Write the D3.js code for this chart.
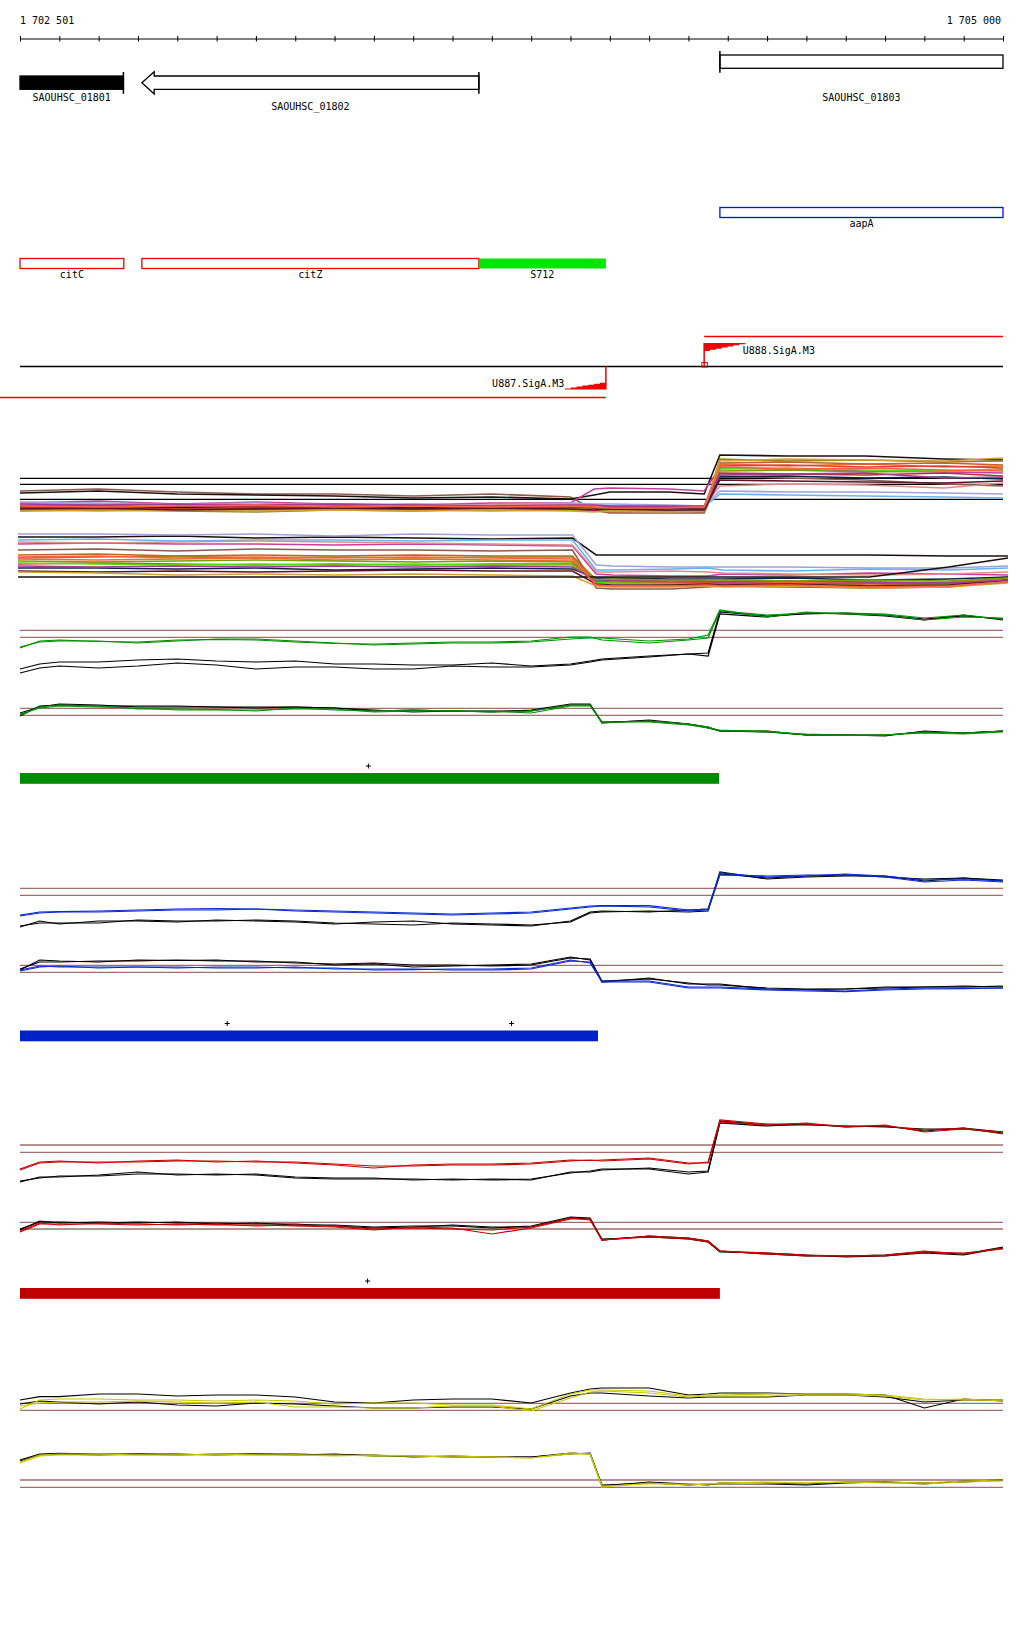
<!DOCTYPE html>
<html><head><meta charset="utf-8">
<script src="https://cdn.jsdelivr.net/npm/d3@7"></script>
<style>
html,body{margin:0;padding:0;background:#fff;}
svg{display:block;}
text{font-family:"DejaVu Sans Mono",monospace;font-size:10px;fill:#000;}
</style></head><body>
<svg id="chart" width="1024" height="1640"></svg>
<script>
// ---------------- DATA ----------------
const genomeRange = [1702500, 1705000];
const tickStep = 100;
const axisTickLabels = ["1 702 501", "1 705 000"];

const geneNames   = ["SAOUHSC_01801", "SAOUHSC_01802", "SAOUHSC_01803"];
const geneStarts  = [1702500, 1702810, 1704280];
const geneEnds    = [1702763, 1703667, 1705000];
const geneStrands = ["-", "-", "+"];
const geneFilled  = [true, false, false];

const featureNames  = ["aapA", "citC", "citZ", "S712"];
const featureStarts = [1704280, 1702500, 1702810, 1703667];
const featureEnds   = [1705000, 1702764, 1703667, 1703990];
const featureFilled = [false, false, false, true];
const featureColors = ["#0010e0", "#f00000", "#f00000", "#00e600"];

const promoterNames   = ["U887.SigA.M3", "U888.SigA.M3"];
const promoterSites   = [1703990, 1704240];
const promoterStrands = ["-", "+"];
const transcriptEnds  = [1702449, 1705000];

// multi-condition bundle (17 positions)
const bundlePositions = [1702500,1702700,1702900,1703100,1703300,1703500,1703700,1703900,1703960,1704000,1704150,1704240,1704280,1704450,1704650,1704850,1705000];
const bundleUpperRefs = [37.7, 31.7, 16.7];
const bundleUpperColors = ["#8c5a50","#1a1010","#c8409c","#64b4f0","#a0a0dc","#f06a32","#a08010","#78a000","#50e000","#e03c3c","#c06428","#e08c8c","#102048","#b43232","#a03c96","#d2a032","#5c1428","#ff6040"];
const bundleUpper = [
 [25,27,24,22,22,20,22,19,6,3,3,3,40,38,36,32,30],
 [23,25,22,21,20,18,19,17,21,24,24,22,61,60,60,57,56],
 [13,15,12,14,12,11,13,13,27,28,27,25,48,47,45,44,43],
 [10,11,11,10,10,12,9,10,11,10,10,9,22,21,20,19,18],
 [14,13,12,13,11,12,11,13,12,12,11,10,25,24,24,23,22],
 [9,8,10,9,8,9,10,9,8,7,8,9,52,50,52,49,50],
 [5,6,5,4,6,5,7,6,6,5,6,5,57,55,56,54,55],
 [8,7,8,6,7,8,7,8,7,6,7,7,45,46,44,45,46],
 [6,7,6,8,7,6,5,6,7,8,7,6,47,48,46,45,47],
 [11,10,11,9,10,11,10,9,9,8,9,8,50,51,49,50,48],
 [7,6,8,7,6,7,6,7,5,4,5,4,53,54,52,53,51],
 [12,12,10,11,12,10,11,12,10,9,9,10,30,32,31,28,33],
 [9,8,9,8,9,8,9,10,8,9,8,7,39,40,38,39,37],
 [8,9,7,9,8,10,8,9,8,9,9,8,43,42,41,43,40],
 [12,11,12,11,12,11,10,11,11,10,10,10,41,42,43,38,39],
 [6,5,6,5,6,5,6,5,4,5,4,5,55,57,56,55,58],
 [7,8,6,7,8,7,8,7,6,7,6,6,36,35,34,33,35],
 [10,9,10,11,9,10,9,10,9,8,8,9,49,47,48,46,45]
];
const bundleLowerColors = ["#1a1010","#a0a0dc","#64b4f0","#c8409c","#e08c8c","#8c5a50","#c06428","#a08010","#f06a32","#e03c3c","#50e000","#102048","#5c1428","#a03c96","#d2a032","#78a000","#1a1010","#ff6040"];
const bundleLower = [
 [55,55,56,54,55,54,53,54,37,37,37,37,37,37,37,36,36],
 [58,58,57,58,56,58,57,57,27,26,25,25,25,25,24,24,26],
 [52,53,51,52,52,51,52,52,22,22,23,24,22,21,23,22,24],
 [48,49,48,48,47,48,47,46,18,17,16,16,18,17,19,18,17],
 [50,49,50,51,50,49,48,47,20,20,21,20,19,18,17,18,20],
 [42,43,41,43,42,42,41,42,4,3,3,5,6,5,4,5,12],
 [37,38,36,37,36,37,36,36,12,10,8,9,8,9,7,8,14],
 [34,35,36,34,35,34,35,35,10,9,9,10,11,10,9,10,15],
 [33,32,33,34,32,33,32,31,13,12,11,10,10,9,10,9,13],
 [28,29,28,27,28,27,28,28,11,11,10,10,9,8,9,8,11],
 [29,28,27,28,27,28,27,27,9,9,8,8,7,8,6,7,10],
 [24,24,23,24,22,23,24,23,14,14,13,13,13,14,12,13,15],
 [21,20,21,20,21,22,21,21,8,7,7,8,7,8,6,7,12],
 [26,25,26,25,26,25,26,25,11,12,12,11,10,11,10,9,12],
 [20,19,17,18,17,18,17,16,6,5,5,6,5,6,4,5,9],
 [31,30,31,32,31,30,31,30,12,13,12,12,12,11,12,11,14],
 [15,15,15,15,15,15,15,15,15,15,15,15,15,15,15,25,34],
 [35,36,34,35,34,35,34,33,7,6,6,7,6,7,5,6,10]
];

// profile tracks (29 positions); each panel: [black1, black2, colour1, colour2]
const profilePositions = [1702500,1702550,1702600,1702700,1702800,1702900,1703000,1703100,1703200,1703300,1703400,1703500,1703600,1703700,1703800,1703900,1703950,1703980,1704100,1704200,1704250,1704280,1704400,1704500,1704600,1704700,1704800,1704900,1705000];

const greenUpperRefs = [49.7, 42.7];
const greenLowerRefs = [31.7, 24.7];
const greenUpper = [
 [11,16,18,18,20,21,19,18,19,16,16,15,15,17,14,16,19,21,24,26,27,68,64,66,67,65,61,64,61],
 [7,12,14,12,14,17,15,11,13,13,11,11,14,13,13,15,18,20,23,26,24,66,63,67,66,64,60,65,60],
 [32,39,40,38.5,38,40,40.5,40,38,36.5,36,37,38,38,39,43,43,40,37,40,42,69,65,67,67,66,62,65,61],
 [33,38,39,39,37,39,41,41,39,37,35,36,37,37,38,41,42,42,39,41,45,70,63,68,66,65,60,63,62]
];
const greenLower = [
 [24,34,35,34,34,34,33,32,33,32,30,28,29,28,30,36,36,17,20,16,13,9,8,5,5,5,8,7,9],
 [27,33,36,35,33,33,33,33,33,32,29,30,29,29,29,35,35,18,19,16,12,9,9,5,5,4,9,7,9],
 [25,33,35,34,31,31,30.5,29,32,30,29,30,29,28,29,35,35,17,19,16,13,9,9,5,4.5,5,8,7,9],
 [26,32,34,33,32,30,30,30,31,31,28,29,29,29,27,34,34,18,18,15,12,10,8,6,5,5,7,6,8]
];

const blueUpperRefs = [51.7, 44.7];
const blueLowerRefs = [34.7, 27.7];
const blueUpper = [
 [13,19,16,19,19,18,20,19,18,16,18,19,16,15,14,19,28,29,28,30,31,66,62,64,65,63,61,62,60],
 [14,17,17,17,20,19,19,20,19,17,16,15,17,16,15,18,27,28,29,28,29,68,61,63,64,64,59,62,59],
 [25,28,28.3,29,30,31,31.3,31,30,29,28,27,26,27,28,32,34,34.3,34.3,30,31,67,63,64,66,64,60,61,59],
 [24,27,28,28,29,30,30,31,29,28,27,26,25,26,27,31,33,34,33,29,30,65,64,65,65,63,58,60,58]
];
const blueLower = [
 [30,40,39,38,40,39.5,40,38,38,35,36,33,34,35,36,43,40,18,22,16,16,16,11,10.5,11,13,13,13,14],
 [31,38,38,39,39,40,39,39,37,36,37,35,35,34,35,42,41,19,21,17,15,15,12,11,11,12,13,14,13],
 [30,34,33,33,33,32,33,33,32,32,30,30.3,31,31,32,40,37,18,18,12,12,12,10,9,8.3,10,11,11.3,12],
 [29,33,34,32,33,33,32,32,33,31,31,31,30,30,31,39,38,19,19,13,13,13,11,10,9,11,12,12,12]
];

const redUpperRefs = [45, 37.7];
const redLowerRefs = [37.7, 31];
const redUpper = [
 [8,13,13,15,18,15,16,15,12,11,11,11,10,11,10,18,18,20,22,18,19,69,65,65,64,63,61,61,57],
 [9,12,14,14,16,16,15,16,13,12,12,10,11,10,11,17,19,21,21,16,18,67,64,66,63,64,59,62,58],
 [21,28,29,27,29,30,28,29,27,25,22,25,26,26,27,30,29.5,30,32,27,27,70,66,66,64,64,60,62,56],
 [20,27,28,28,28,29,29,28,28,26,24,24,25,25,26,29,30,29,31,26,28,68,65,67,63,65,58,61,58]
];
const redLower = [
 [30,39,37,38,37,38,36,37,35,35,33,34,34,32,34,43,42,20,24,22,19,9,6,4,4,5,8,6,13],
 [31,38,38,37,38,37,37,36,36,34,32,33,35,33,33,42,41,21,23,21,18,8,7,5,3,4,7,5,12],
 [28,36,36,36,35,36,35,35,34,33,30,33,32,26,32,41,41,20,24,22,19,9,6,4,4,5,9,6,12],
 [29,37,35,37,36,35,36,34,35,34,31,32,31,30,33,42,40,20,23,21,18,9,7,5,4,4,8,7,11]
];

const yellowUpperRefs = [11.7, 4.7];
const yellowLowerRefs = [10, 2.7];
const yellowUpper = [
 [15,18.3,18.3,21,21,19,20,20,18,13,12,15,16,16,12,22,26,27,27,20,21,22,22,21,21,20,7,16,14],
 [11,14,13,11,13,10,9,12,11,9,7,7,8,8,6,19,22,22,19,17,18,18,18,20,20,18,13,15,15],
 [6,15,16,16,15,15,14,15,14,11,12,12,10,10,6,21,25,25,24,19,20,20,21,21,21,20,16,15,15],
 [9,12,13,13,14,13,12,13,8,8,7,7,9,9,4,17,23,24,22,18,19,19,19,20,20,19,15,16,14]
];
const yellowLower = [
 [30,36,36.7,36,36,35,36,36,35,36,34,34,33,33,33,37,36,4,8,6,5,7,7,6,8,8,6,9,10],
 [29,35,36,35,36,36,35,36,36,35,35,33,34,33,33,36,37,5,7,5,6,6,6,5,7,8,7,8,10],
 [28,35,36,36,35,35,35,35,35,35,34,34,33,33,32,37,36,3,7,5,6,7,8,7,8,8,7,9,10],
 [27,34,35,35,35,35,36,35,35,34,35,34,34,33,32,36,36,4,6,6,6,6,7,7,8,7,6,8,9]
];

// segment bars and their "+" marks
const greenSegment = [1702500, 1704278];
const blueSegment  = [1702500, 1703970];
const redSegment   = [1702500, 1704280];
const greenMarks = [1703386];
const blueMarks  = [1703027, 1703750];
const redMarks   = [1703384];

// ---------------- DRAWING ----------------
const svg = d3.select("#chart");
const x = d3.scaleLinear().domain(genomeRange).range([20, 1003]);
const xLow = d3.scaleLinear().domain(genomeRange).range([18, 1008]);
const refColor = "#a0706c";

// axis
const ticks = d3.range(genomeRange[0], genomeRange[1] + 1, tickStep);
const axis = d3.axisBottom(x).tickValues(ticks).tickSize(3).tickSizeOuter(0).tickFormat("");
const ag = svg.append("g").attr("transform", "translate(0,38.5)").call(axis);
ag.select(".domain").attr("stroke", "#000").attr("stroke-width", 1);
ag.selectAll(".tick line").attr("y1", -2.5).attr("y2", 3).attr("stroke", "#000");
svg.append("text").attr("x", x(genomeRange[0])).attr("y", 24).text(axisTickLabels[0]);
svg.append("text").attr("x", x(genomeRange[1]) - 2).attr("y", 24).attr("text-anchor", "end").text(axisTickLabels[1]);

// genes
geneNames.forEach((name, i) => {
  const s = geneStarts[i], e = geneEnds[i], strand = geneStrands[i];
  const top = strand === "+" ? 55 : 76, bot = top + 13.3, mid = (top + bot) / 2;
  const x0 = x(s), x1 = x(e);
  const g = svg.append("g");
  const hasArrow = strand === "-" ? s > genomeRange[0] : e < genomeRange[1];
  if (hasArrow && strand === "-") {
    const hx = x0 + 12.3;
    g.append("path").attr("d", `M${x1},${top}L${hx},${top}L${hx},${top-4.3}L${x0},${mid}L${hx},${bot+4.7}L${hx},${bot}L${x1},${bot}Z`)
      .attr("fill", geneFilled[i] ? "#000" : "#fff").attr("stroke", "#000").attr("stroke-width", 1.3);
  } else {
    g.append("rect").attr("x", x0).attr("y", top).attr("width", x1 - x0).attr("height", bot - top)
      .attr("fill", geneFilled[i] ? "#000" : "#fff").attr("stroke", "#000").attr("stroke-width", 1.3);
  }
  const tx = strand === "+" ? x0 : x1;
  g.append("line").attr("x1", tx).attr("x2", tx).attr("y1", top - 4).attr("y2", bot + 4.5).attr("stroke", "#000").attr("stroke-width", 1.5);
  const labelY = i === 1 ? 110 : 101;
  g.append("text").attr("x", (x0 + x1) / 2).attr("y", labelY).attr("text-anchor", "middle").text(name);
});

// features
featureNames.forEach((name, i) => {
  const x0 = x(featureStarts[i]), x1 = x(featureEnds[i]);
  const top = name === "aapA" ? 207.5 : 258.5, h = 10;
  svg.append("rect").attr("x", x0).attr("y", top).attr("width", x1 - x0).attr("height", h)
    .attr("fill", featureFilled[i] ? featureColors[i] : "#fff")
    .attr("stroke", featureFilled[i] ? "none" : featureColors[i]).attr("stroke-width", 1.3);
  svg.append("text").attr("x", (x0 + x1) / 2).attr("y", top + 19.5).attr("text-anchor", "middle").text(name);
});

// promoters
svg.append("line").attr("x1", x(genomeRange[0])).attr("x2", x(genomeRange[1])).attr("y1", 366.5).attr("y2", 366.5).attr("stroke", "#000").attr("stroke-width", 1.3);
promoterNames.forEach((name, i) => {
  const px = x(promoterSites[i]);
  const red = "#f00000";
  const g = svg.append("g");
  if (promoterStrands[i] === "-") {
    g.append("line").attr("x1", px).attr("x2", px).attr("y1", 366).attr("y2", 389.5).attr("stroke", red).attr("stroke-width", 1.5);
    const w = 41, steps = 7, base = 389.5, hmax = 6.8;
    let pts = [[px, base], [px - w, base]];
    for (let k = 0; k < steps; k++) {
      const xa = px - w + (k * w) / steps, xb = px - w + ((k + 1) * w) / steps;
      const hh = hmax * (k + 1) / steps;
      pts.push([xa, base - hh], [xb, base - hh]);
    }
    g.append("path").attr("d", "M" + pts.map(p => p.join(",")).join("L") + "Z").attr("fill", red);
    g.append("line").attr("x1", x(transcriptEnds[i])).attr("x2", px).attr("y1", 397.5).attr("y2", 397.5).attr("stroke", red).attr("stroke-width", 1.3);
    g.append("text").attr("x", px - w - 0.5).attr("y", 387).attr("text-anchor", "end").text(name);
  } else {
    g.append("line").attr("x1", px).attr("x2", px).attr("y1", 366).attr("y2", 343).attr("stroke", red).attr("stroke-width", 1.5);
    const w = 41, steps = 7, top = 343, hmax = 8;
    let pts = [[px, top], [px + w, top]];
    for (let k = 0; k < steps; k++) {
      const xa = px + w - (k * w) / steps, xb = px + w - ((k + 1) * w) / steps;
      const hh = hmax * (k + 1) / steps;
      pts.push([xa, top + hh], [xb, top + hh]);
    }
    g.append("path").attr("d", "M" + pts.map(p => p.join(",")).join("L") + "Z").attr("fill", red);
    g.append("rect").attr("x", px - 2.3).attr("y", 362.5).attr("width", 5.5).attr("height", 4.5).attr("fill", "none").attr("stroke", red).attr("stroke-width", 1);
    g.append("line").attr("x1", px).attr("x2", x(transcriptEnds[i])).attr("y1", 336.5).attr("y2", 336.5).attr("stroke", red).attr("stroke-width", 1.3);
    g.append("text").attr("x", px + 38.5).attr("y", 354).text(name);
  }
});

// bundle panels
function drawBundle(values, colors, refs, bottom, xs) {
  const y = d3.scaleLinear().domain([0, 80]).range([bottom, bottom - 80]);
  const g = svg.append("g");
  refs.forEach(r => g.append("line").attr("x1", xs.range()[0]).attr("x2", xs.range()[1])
    .attr("y1", y(r)).attr("y2", y(r)).attr("stroke", "#000").attr("stroke-width", 1.3));
  const line = d3.line().x((d, i) => xs(bundlePositions[i])).y(d => y(d));
  values.forEach((vals, k) => g.append("path").attr("d", line(vals)).attr("fill", "none")
    .attr("stroke", colors[k]).attr("stroke-width", 1.6));
}
drawBundle(bundleUpper, bundleUpperColors, bundleUpperRefs, 516, x);
drawBundle(bundleLower, bundleLowerColors, [], 592, xLow);

// profile panels
function drawProfile(lines, col, refs, bottom) {
  const y = d3.scaleLinear().domain([0, 80]).range([bottom, bottom - 80]);
  const g = svg.append("g");
  refs.forEach(r => g.append("line").attr("x1", x(genomeRange[0])).attr("x2", x(genomeRange[1]))
    .attr("y1", y(r)).attr("y2", y(r)).attr("stroke", refColor).attr("stroke-width", 1.3));
  const line = d3.line().x((d, i) => x(profilePositions[i])).y(d => y(d));
  const colors = ["#000", "#000", col, col];
  lines.forEach((vals, k) => g.append("path").attr("d", line(vals)).attr("fill", "none")
    .attr("stroke", colors[k]).attr("stroke-width", 1.2));
}
function drawSegment(seg, marks, col, top) {
  svg.append("rect").attr("x", x(seg[0])).attr("y", top).attr("width", x(seg[1]) - x(seg[0])).attr("height", 10.8).attr("fill", col);
  marks.forEach(m => {
    const mx = x(m), my = top - 7;
    svg.append("path").attr("d", `M${mx - 2.5},${my}H${mx + 2.5}M${mx},${my - 2.5}V${my + 2.5}`).attr("stroke", "#000").attr("stroke-width", 1);
  });
}
drawProfile(greenUpper, "#009000", greenUpperRefs, 680);
drawProfile(greenLower, "#009000", greenLowerRefs, 740);
drawSegment(greenSegment, greenMarks, "#008c00", 773);

drawProfile(blueUpper, "#0a2ad2", blueUpperRefs, 940);
drawProfile(blueLower, "#0a2ad2", blueLowerRefs, 1000);
drawSegment(blueSegment, blueMarks, "#0022c8", 1030.5);

drawProfile(redUpper, "#c80000", redUpperRefs, 1190);
drawProfile(redLower, "#c80000", redLowerRefs, 1260);
drawSegment(redSegment, redMarks, "#c00000", 1288);

drawProfile(yellowUpper, "#c8c800", yellowUpperRefs, 1415);
drawProfile(yellowLower, "#c8c800", yellowLowerRefs, 1490);
</script>
</body></html>
